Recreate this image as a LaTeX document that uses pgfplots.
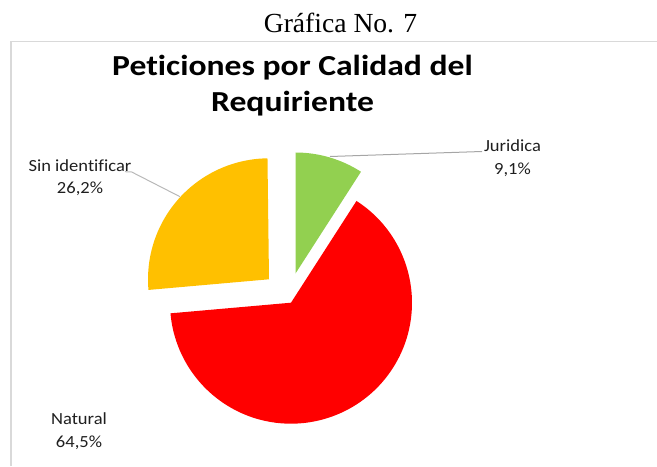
\documentclass[border=0pt]{standalone}
\usepackage{graphicx}
\usepackage{pgfplots}
\pgfplotsset{compat=1.18}
\usepackage{fontspec}
\setmainfont[Ligatures=NoCommon]{Carlito}
\newfontfamily\serifcap{Liberation Serif}
\definecolor{pgreen}{HTML}{92D050}
\definecolor{pred}{HTML}{FF0000}
\definecolor{porange}{HTML}{FFC000}
\definecolor{frame}{HTML}{D9D9D9}
\definecolor{leader}{HTML}{A6A6A6}
\definecolor{lbl}{HTML}{1F1F1F}
\begin{document}
\begin{tikzpicture}
\begin{axis}[
  scale only axis, width=328.5pt, height=233pt,
  xmin=0, xmax=657, ymin=0, ymax=466,
  hide axis, clip=false,
]
% chart area frame
\draw[frame, line width=0.8pt] (axis cs:10.7,0) -- (axis cs:10.7,424.3) -- (axis cs:657,424.3);
% pie slices: values 9.1 (Juridica), 64.5 (Natural), 26.2 (Sin identificar), clockwise from 12 o'clock
\fill[pgreen] (axis cs:295.5,192.5) -- ++(90:60.5pt)
  arc[start angle=90, delta angle={-9.1*3.6}, radius=60.5pt] -- cycle;
\fill[pred] (axis cs:291,163.3) -- ++({90-9.1*3.6}:60.5pt)
  arc[start angle={90-9.1*3.6}, delta angle={-64.5*3.6}, radius=60.5pt] -- cycle;
\fill[porange] (axis cs:269,186.7) -- ++({90-(9.1+64.5)*3.6}:60.5pt)
  arc[start angle={90-(9.1+64.5)*3.6}, delta angle={-26.2*3.6}, radius=60.5pt] -- cycle;
% leader lines
\draw[leader!80, line width=0.5pt] (axis cs:125,294.3) -- (axis cs:131.7,294) -- (axis cs:180,269.3);
\draw[leader, line width=0.5pt] (axis cs:330,309.5) -- (axis cs:482,314.5);
% data labels
\node[lbl, align=center, font=\fontsize{8.5pt}{11.5pt}\selectfont] at (axis cs:512.5,308)
  {\scalebox{1.09}[1]{Juridica}\\\scalebox{1.09}[1]{9,1\%}};
\node[lbl, align=center, font=\fontsize{8.5pt}{11pt}\selectfont] at (axis cs:80,288.5)
  {\scalebox{1.09}[1]{Sin identificar}\\\scalebox{1.09}[1]{26,2\%}};
\node[lbl, align=center, font=\fontsize{8.5pt}{11.5pt}\selectfont] at (axis cs:79,34.5)
  {\scalebox{1.09}[1]{Natural}\\\scalebox{1.09}[1]{64,5\%}};
% chart title
\node[anchor=base, inner sep=0pt, font=\fontsize{14.5pt}{17pt}\selectfont\bfseries] at (axis cs:292.5,390.3)
  {\scalebox{1.16}[1]{Peticiones por Calidad del}};
\node[anchor=base, inner sep=0pt, font=\fontsize{14.5pt}{17pt}\selectfont\bfseries] at (axis cs:292.5,354.3)
  {\scalebox{1.16}[1]{Requiriente}};
% caption above chart
\node[anchor=base, inner sep=0pt, font=\serifcap\fontsize{13.8pt}{16pt}\selectfont] at (axis cs:340.5,433)
  {Gráfica No. 7};
\end{axis}
\pgfresetboundingbox
\useasboundingbox (0,0) rectangle (328.5pt,233pt);
\end{tikzpicture}
\end{document}
